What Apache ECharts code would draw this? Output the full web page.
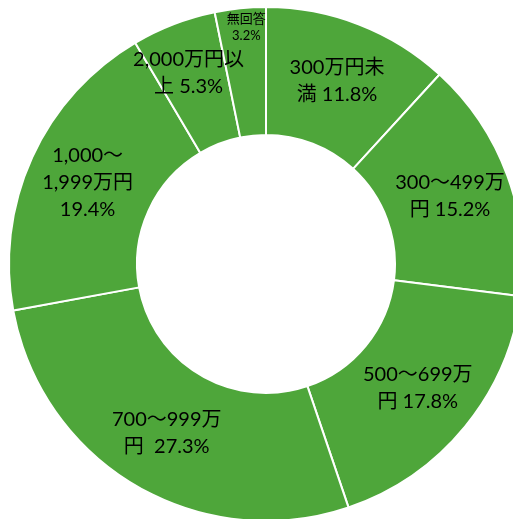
<!DOCTYPE HTML>
<html>
	<head>
		<meta charset="utf-8">
		<title></title>
		<style type="text/css">
			html, body { margin: 0; padding: 0; background: #fff; }
			#main { width: 513px; height: 519px; }
		</style>
	</head>
	<body>
		<div id="main"></div>
	</body>
	<script type="text/javascript" src="https://cdn.jsdelivr.net/npm/echarts@6/dist/echarts.min.js"></script>
	<script type="text/javascript">
		// 世帯年収の回答割合
		var categories = ['300万円未満', '300～499万円', '500～699万円', '700～999万円', '1,000～1,999万円', '2,000万円以上', '無回答'];
		var values = [11.8, 15.2, 17.8, 27.3, 19.4, 5.3, 3.2];
		// ラベルの表示（元の図の改行どおり）
		var labelTexts = [
			'300万円未\n満 11.8%',
			'300～499万\n円 15.2%',
			'500～699万\n円 17.8%',
			'700～999万\n円  27.3%',
			'1,000～\n1,999万円\n19.4%',
			'2,000万円以\n上 5.3%',
			'無回答\n3.2%'
		];

		var font = 'Lato, "Noto Sans CJK JP", sans-serif';

		var option = {
			animation: false,
			series: [{
				type: 'pie',
				center: [266, 264],
				radius: [129, 257],
				startAngle: 90,
				clockwise: true,
				avoidLabelOverlap: false,
				itemStyle: {
					color: '#4ea63a',
					borderColor: '#ffffff',
					borderWidth: 2
				},
				label: {
					show: true,
					position: 'inside',
					color: '#000',
					fontFamily: font,
					fontSize: 20,
					lineHeight: 27,
					align: 'center',
					formatter: function (p) {
						return labelTexts[p.dataIndex];
					}
				},
				labelLine: { show: false },
				emphasis: { disabled: true },
				labelLayout: function (p) {
					if (p.dataIndex === 6) return { dy: -42 };
					if (p.dataIndex === 5) return { dx: -7, dy: -8 };
					return {};
				},
				data: categories.map(function (c, i) {
					var d = { name: c, value: values[i] };
					if (i === 6) {
						d.label = { fontSize: 13, lineHeight: 17 };
					}
					return d;
				})
			}]
		};

		var myChart = echarts.init(document.getElementById('main'));
		myChart.setOption(option);
	</script>
</html>
